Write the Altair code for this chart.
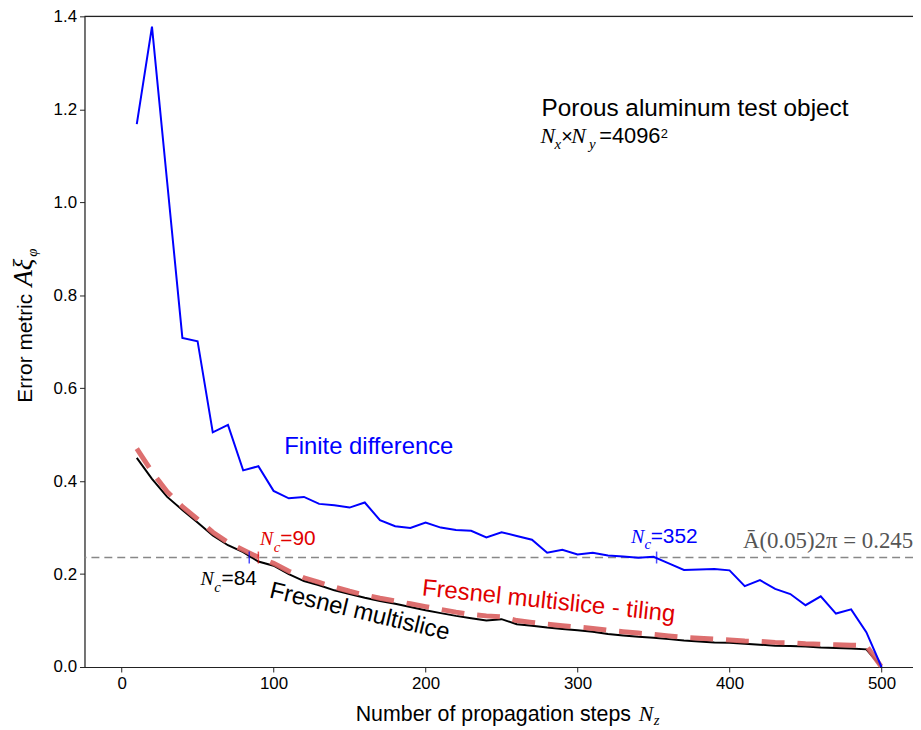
import altair as alt
import pandas as pd

# ---------------- data ----------------
steps = list(range(10, 501, 10))

finite_difference = [
    1.168, 1.378, 1.043, 0.708, 0.701, 0.505, 0.521, 0.423, 0.432, 0.379,
    0.363, 0.366, 0.351, 0.348, 0.343, 0.354, 0.316, 0.303, 0.299, 0.311,
    0.300, 0.295, 0.293, 0.279, 0.290, 0.282, 0.274, 0.246, 0.252, 0.242,
    0.246, 0.240, 0.238, 0.235, 0.237, 0.223, 0.209, 0.210, 0.211, 0.208,
    0.174, 0.187, 0.168, 0.157, 0.133, 0.152, 0.115, 0.124, 0.075, 0.0,
]

fresnel_multislice = [
    0.450, 0.405, 0.366, 0.338, 0.311, 0.283, 0.262, 0.247, 0.227, 0.218,
    0.200, 0.185, 0.176, 0.165, 0.157, 0.149, 0.142, 0.136, 0.129, 0.122,
    0.116, 0.110, 0.105, 0.100, 0.103, 0.092, 0.089, 0.085, 0.082, 0.079,
    0.076, 0.071, 0.068, 0.065, 0.063, 0.060, 0.057, 0.055, 0.053, 0.052,
    0.050, 0.048, 0.046, 0.045, 0.044, 0.042, 0.041, 0.040, 0.038, 0.0,
]

fresnel_tiling = [
    0.470, 0.420, 0.377, 0.345, 0.318, 0.290, 0.268, 0.252, 0.236, 0.223,
    0.206, 0.192, 0.182, 0.172, 0.163, 0.155, 0.148, 0.142, 0.136, 0.130,
    0.124, 0.118, 0.113, 0.110, 0.108, 0.100, 0.096, 0.092, 0.089, 0.086,
    0.083, 0.079, 0.076, 0.073, 0.070, 0.067, 0.064, 0.062, 0.060, 0.058,
    0.056, 0.055, 0.053, 0.052, 0.050, 0.049, 0.048, 0.047, 0.046, 0.0,
]

threshold = 0.2356
nc_steps = [84, 90, 352]
nc_colors = ["#0000ff", "#e00000", "#0000ff"]

x_ticks = [0, 100, 200, 300, 400, 500]
y_ticks = [0.0, 0.2, 0.4, 0.6, 0.8, 1.0, 1.2, 1.4]
x_domain = [-24.4, 520.7]
y_domain = [0.0, 1.4]

SANS = "Liberation Sans"
SERIF = "Liberation Serif"

# annotations inside the plot: text, x (data), y (data), colour, font, size, italic, angle, align
annotations = [
    ("Finite difference", 107.0, 0.459, "#0000ff", SANS, 24, False, 0, "left"),
    ("Porous aluminum test object", 276.3, 1.186, "black", SANS, 24.5, False, 0, "left"),
    ("N", 275.6, 1.128, "black", SERIF, 22, True, 0, "left"),
    ("x", 284.8, 1.114, "black", SERIF, 15, True, 0, "left"),
    ("\u00d7", 289.3, 1.128, "black", SANS, 20, False, 0, "left"),
    ("N", 295.9, 1.128, "black", SERIF, 22, True, 0, "left"),
    ("y", 307.6, 1.114, "black", SERIF, 15, True, 0, "left"),
    ("=4096", 314.2, 1.128, "black", SANS, 22, False, 0, "left"),
    ("2", 354.7, 1.139, "black", SANS, 13, False, 0, "left"),
    ("N", 91.1, 0.263, "#e00000", SERIF, 20, True, 0, "left"),
    ("c", 100.1, 0.248, "#e00000", SERIF, 15, True, 0, "left"),
    ("=90", 104.4, 0.263, "#e00000", SANS, 21, False, 0, "left"),
    ("N", 51.9, 0.177, "black", SERIF, 20, True, 0, "left"),
    ("c", 60.9, 0.162, "black", SERIF, 15, True, 0, "left"),
    ("=84", 65.8, 0.177, "black", SANS, 21, False, 0, "left"),
    ("N", 335.1, 0.267, "#0000ff", SERIF, 20, True, 0, "left"),
    ("c", 344.0, 0.254, "#0000ff", SERIF, 15, True, 0, "left"),
    ("=352", 348.1, 0.267, "#0000ff", SANS, 21, False, 0, "left"),
    ("\u0100(0.05)2\u03c0 = 0.245", 408.8, 0.256, "#555555", SERIF, 23, False, 0, "left"),
    ("Fresnel multislice", 155.6, 0.104, "black", SANS, 24, False, 13.5, "center"),
    ("Fresnel multislice - tiling", 280.5, 0.126, "#e00000", SANS, 24, False, 6.0, "center"),
]

# axis-title pieces outside the plot: text, x (px from plot left), y (px from plot top), size, font, italic, angle
outside_texts = [
    ("Number of propagation steps", 273, 709, 21.5, SANS, False, 0),
    ("N", 558, 709, 22, SERIF, True, 0),
    ("z", 573, 713, 15, SERIF, True, 0),
    ("Error metric", -53.3, 389, 21, SANS, False, 270),
    ("A\u03be", -53.3, 272, 27, SERIF, True, 270),
    ("\u03c6", -48.0, 242, 15, SERIF, True, 270),
]

# ---------------- chart ----------------
df = pd.DataFrame({
    "steps": steps,
    "fd": finite_difference,
    "fm": fresnel_multislice,
    "ft": fresnel_tiling,
})

xs = alt.Scale(domain=x_domain, nice=False, zero=False)
ys = alt.Scale(domain=y_domain, nice=False)

x_axis = alt.Axis(values=x_ticks, title=None, labelFontSize=17, labelFont=SANS,
                  tickSize=5, labelPadding=4, grid=False, domainColor="#222",
                  tickColor="#222", labelColor="black", domainWidth=1.2)
y_axis = alt.Axis(values=y_ticks, format=".1f", title=None, labelFontSize=17,
                  labelFont=SANS, tickSize=5, labelPadding=3, grid=False,
                  domainColor="#222", tickColor="#222", labelColor="black",
                  domainWidth=1.2)

base = alt.Chart(df)

black_line = base.mark_line(color="black", strokeWidth=2).encode(
    x=alt.X("steps:Q", scale=xs, axis=x_axis),
    y=alt.Y("fm:Q", scale=ys, axis=y_axis),
)
red_line = base.mark_line(color="#d95f5f", strokeWidth=5, strokeDash=[23, 13],
                          opacity=0.9).encode(
    x=alt.X("steps:Q", scale=xs), y=alt.Y("ft:Q", scale=ys))
blue_line = base.mark_line(color="#0000ff", strokeWidth=2).encode(
    x=alt.X("steps:Q", scale=xs), y=alt.Y("fd:Q", scale=ys))

thr_rule = alt.Chart(pd.DataFrame({"t": [threshold]})).mark_rule(
    color="#888888", strokeWidth=1.4, strokeDash=[8, 5]).encode(
    y=alt.Y("t:Q", scale=ys))
top_spine = alt.Chart(pd.DataFrame({"t": [y_domain[1]]})).mark_rule(
    color="#222", strokeWidth=1.2).encode(y=alt.Y("t:Q", scale=ys))

nc_df = pd.DataFrame({"n": nc_steps, "c": nc_colors, "t": [threshold] * 3})
nc_ticks = alt.Chart(nc_df).mark_tick(orient="vertical", size=12, thickness=1.5).encode(
    x=alt.X("n:Q", scale=xs), y=alt.Y("t:Q", scale=ys),
    color=alt.Color("c:N", scale=None))

layers = [thr_rule, top_spine, black_line, red_line, blue_line, nc_ticks]

for text, xv, yv, col, font, size, italic, angle, align in annotations:
    d = pd.DataFrame({"x": [xv], "y": [yv], "t": [text]})
    kw = dict(align=align, baseline="alphabetic", font=font, fontSize=size,
              color=col, angle=angle)
    if italic:
        kw["fontStyle"] = "italic"
    layers.append(alt.Chart(d).mark_text(**kw).encode(
        x=alt.X("x:Q", scale=xs), y=alt.Y("y:Q", scale=ys), text="t:N"))

for text, xp, yp, size, font, italic, angle in outside_texts:
    d = pd.DataFrame({"t": [text]})
    kw = dict(align="left", baseline="alphabetic", font=font, fontSize=size,
              color="black", angle=angle)
    if italic:
        kw["fontStyle"] = "italic"
    layers.append(alt.Chart(d).mark_text(**kw).encode(
        x=alt.value(xp), y=alt.value(yp), text="t:N"))

chart = alt.layer(*layers).properties(
    width=834, height=655,
    autosize=alt.AutoSizeParams(type="none"),
    padding={"left": 77, "top": 6, "right": 0, "bottom": 59},
).configure_view(stroke=None).configure(background="white")

chart.save("out.html", embed_options={"renderer": "svg", "actions": False})
